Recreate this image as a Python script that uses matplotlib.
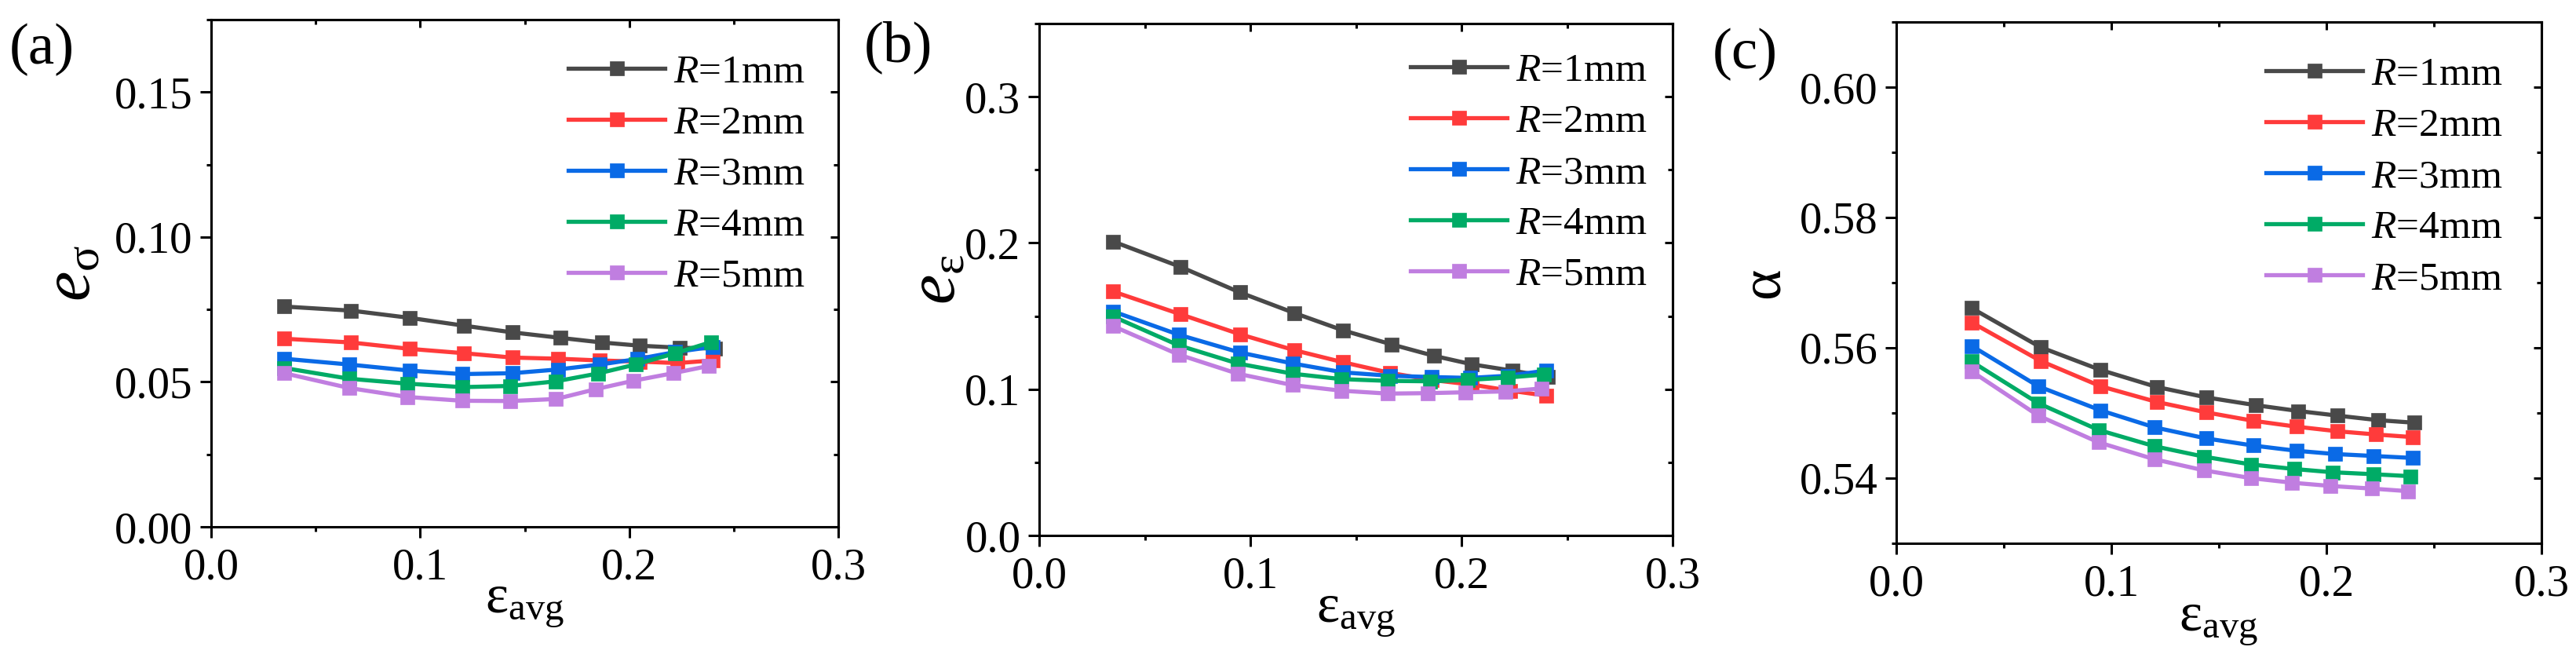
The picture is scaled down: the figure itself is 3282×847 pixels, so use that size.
import matplotlib
matplotlib.use('Agg')
import matplotlib.pyplot as plt
from matplotlib.ticker import MultipleLocator, FormatStrFormatter

plt.rcParams['font.family'] = ['Liberation Serif', 'DejaVu Serif']
plt.rcParams['mathtext.fontset'] = 'custom'
plt.rcParams['mathtext.rm'] = 'Liberation Serif'
plt.rcParams['mathtext.it'] = 'Liberation Serif:italic'
plt.rcParams['mathtext.bf'] = 'Liberation Serif:bold'

# dados
raios = ['1', '2', '3', '4', '5']
cores = ['#494949', '#ff3b3b', '#0a6ae6', '#00ab66', '#c07ee0']

x_r1 = [0.035, 0.067, 0.095, 0.121, 0.144, 0.167, 0.187, 0.205, 0.224, 0.241]
x_r2 = [0.035, 0.067, 0.095, 0.121, 0.144, 0.166, 0.186, 0.205, 0.223, 0.240]
x_r3 = [0.035, 0.066, 0.095, 0.120, 0.144, 0.166, 0.186, 0.204, 0.222, 0.240]
x_r4 = [0.035, 0.066, 0.094, 0.120, 0.143, 0.165, 0.185, 0.203, 0.222, 0.239]
x_r5 = [0.035, 0.066, 0.094, 0.120, 0.143, 0.165, 0.184, 0.202, 0.221, 0.238]

e_sigma_r1 = [0.0760, 0.0746, 0.0721, 0.0694, 0.0671, 0.0652, 0.0636, 0.0625, 0.0618, 0.0615]
e_sigma_r2 = [0.0649, 0.0636, 0.0614, 0.0599, 0.0584, 0.0580, 0.0574, 0.0570, 0.0565, 0.0574]
e_sigma_r3 = [0.0580, 0.0560, 0.0539, 0.0527, 0.0530, 0.0543, 0.0560, 0.0579, 0.0603, 0.0621]
e_sigma_r4 = [0.0548, 0.0511, 0.0494, 0.0482, 0.0486, 0.0502, 0.0529, 0.0560, 0.0599, 0.0637]
e_sigma_r5 = [0.0530, 0.0479, 0.0448, 0.0435, 0.0434, 0.0441, 0.0475, 0.0504, 0.0530, 0.0555]

e_eps_r1 = [0.2010, 0.1836, 0.1662, 0.1520, 0.1402, 0.1306, 0.1228, 0.1170, 0.1127, 0.1086]
e_eps_r2 = [0.1668, 0.1512, 0.1376, 0.1266, 0.1184, 0.1112, 0.1063, 0.1031, 0.0990, 0.0956]
e_eps_r3 = [0.1532, 0.1373, 0.1251, 0.1176, 0.1115, 0.1092, 0.1083, 0.1077, 0.1092, 0.1127]
e_eps_r4 = [0.1497, 0.1300, 0.1176, 0.1106, 0.1069, 0.1057, 0.1054, 0.1063, 0.1080, 0.1100]
e_eps_r5 = [0.1431, 0.1237, 0.1106, 0.1028, 0.0990, 0.0970, 0.0973, 0.0979, 0.0985, 0.1005]

alpha_r1 = [0.5661, 0.5601, 0.5566, 0.5540, 0.5524, 0.5512, 0.5503, 0.5496, 0.5489, 0.5485]
alpha_r2 = [0.5639, 0.5580, 0.5541, 0.5517, 0.5501, 0.5488, 0.5479, 0.5472, 0.5467, 0.5463]
alpha_r3 = [0.5603, 0.5541, 0.5504, 0.5478, 0.5461, 0.5450, 0.5442, 0.5437, 0.5434, 0.5431]
alpha_r4 = [0.5579, 0.5515, 0.5474, 0.5449, 0.5433, 0.5421, 0.5414, 0.5409, 0.5406, 0.5403]
alpha_r5 = [0.5564, 0.5496, 0.5455, 0.5429, 0.5412, 0.5400, 0.5393, 0.5388, 0.5384, 0.5380]

xs = [x_r1, x_r2, x_r3, x_r4, x_r5]
e_sigma = [e_sigma_r1, e_sigma_r2, e_sigma_r3, e_sigma_r4, e_sigma_r5]
e_eps = [e_eps_r1, e_eps_r2, e_eps_r3, e_eps_r4, e_eps_r5]
alpha = [alpha_r1, alpha_r2, alpha_r3, alpha_r4, alpha_r5]

W, H = 3282, 847
fig = plt.figure(figsize=(W / 100, H / 100), dpi=100)


def cria_eixo(esq, dir, topo, base):
    return fig.add_axes([esq / W, 1 - base / H, (dir - esq) / W, (base - topo) / H])


def desenha(ax, ys, ylim, major, minor, fmt, ylabel, ylabel_x, ylabel_size, leg_xy, letra, letra_xy):
    for x, y, r, c in zip(xs, ys, raios, cores):
        ax.plot(x, y, '-s', color=c, lw=3.8, ms=13.5, mew=0.5, mec=c,
                label='$\\mathit{R}$=' + r + 'mm')
    ax.set_xlim(0, 0.3)
    ax.set_ylim(*ylim)
    ax.xaxis.set_major_locator(MultipleLocator(0.1))
    ax.xaxis.set_minor_locator(MultipleLocator(0.05))
    ax.xaxis.set_major_formatter(FormatStrFormatter('%.1f'))
    ax.yaxis.set_major_locator(MultipleLocator(major))
    ax.yaxis.set_minor_locator(MultipleLocator(minor))
    ax.yaxis.set_major_formatter(FormatStrFormatter(fmt))
    for s in ax.spines.values():
        s.set_linewidth(2.2)
    ax.tick_params(which='major', direction='out', length=10, width=2.2, labelsize=41)
    ax.tick_params(which='minor', direction='out', length=4.5, width=2.2)
    ax.tick_params(axis='x', which='major', pad=9)
    ax.tick_params(axis='y', which='major', pad=7)

    # ticks para dentro no topo e na direita
    topo = ax.secondary_xaxis('top')
    topo.set_xticks([0.0, 0.1, 0.2, 0.3])
    topo.xaxis.set_minor_locator(MultipleLocator(0.05))
    topo.tick_params(which='major', direction='in', length=7, width=2.2, labeltop=False)
    topo.tick_params(which='minor', direction='in', length=4, width=2.2)
    topo.spines['top'].set_linewidth(2.2)

    direita = ax.secondary_yaxis('right')
    direita.yaxis.set_major_locator(MultipleLocator(major))
    direita.yaxis.set_minor_locator(MultipleLocator(minor))
    direita.tick_params(which='major', direction='in', length=7, width=2.2, labelright=False)
    direita.tick_params(which='minor', direction='in', length=4, width=2.2)
    direita.spines['right'].set_linewidth(2.2)

    ax.set_xlabel('ε$_{\\mathrm{avg}}$', fontsize=50)
    ax.xaxis.set_label_coords(0.5, -0.105)
    ax.set_ylabel(ylabel, fontsize=ylabel_size)
    ax.yaxis.set_label_coords(ylabel_x, 0.5)

    ax.legend(loc='upper left', bbox_to_anchor=leg_xy, frameon=False, fontsize=37,
              handlelength=2.4, handletextpad=0.2, labelspacing=0.35,
              borderpad=0, borderaxespad=0)
    fig.text(letra_xy[0] / W, 1 - letra_xy[1] / H, letra, fontsize=54, ha='left', va='top')


ax1 = cria_eixo(269, 1068, 25, 671)
desenha(ax1, e_sigma, (0, 0.175), 0.05, 0.025, '%.2f',
        '$\\mathit{e}_{\\mathrm{\\sigma}}$', -0.17, 62, (0.5695, 0.932), '(a)', (12, 30))

ax2 = cria_eixo(1324, 2131, 30, 682)
desenha(ax2, e_eps, (0, 0.35), 0.1, 0.05, '%.1f',
        '$\\mathit{e}_{\\mathrm{\\varepsilon}}$', -0.11, 62, (0.586, 0.943), '(b)', (1101, 26))

ax3 = cria_eixo(2416, 3238, 28, 692)
desenha(ax3, alpha, (0.53, 0.61), 0.02, 0.01, '%.2f',
        'α', -0.163, 54, (0.573, 0.933), '(c)', (2182, 36))

fig.savefig('out.png', dpi=100)
